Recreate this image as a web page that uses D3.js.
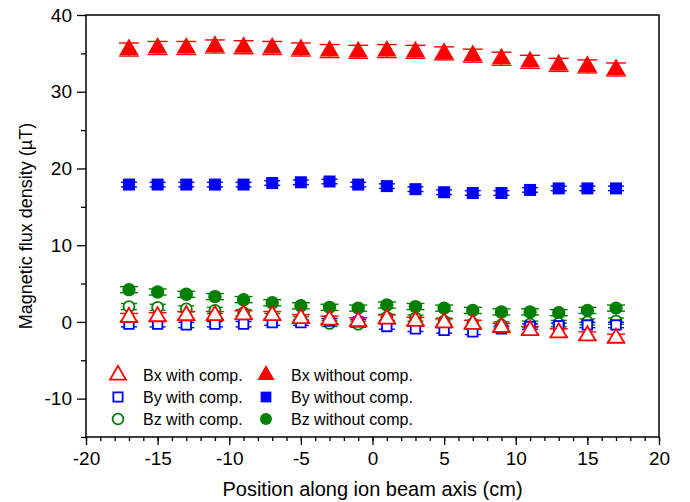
<!DOCTYPE html>
<html><head><meta charset="utf-8">
<script src="https://cdn.jsdelivr.net/npm/d3@7"></script>
<style>body{margin:0;background:#fff}svg{display:block;font-family:"Liberation Sans",Arial,sans-serif}</style>
</head><body>
<svg id="c" width="690" height="502"></svg>
<script>
const positions = [-17,-15,-13,-11,-9,-7,-5,-3,-1,1,3,5,7,9,11,13,15,17];
const bxWithout = [35.5,35.7,35.7,35.9,35.8,35.7,35.5,35.3,35.2,35.3,35.2,35.0,34.7,34.3,33.9,33.5,33.3,32.9];
const byWithout = [17.9,17.9,17.9,17.9,17.9,18.1,18.2,18.3,17.9,17.7,17.3,16.9,16.8,16.8,17.2,17.4,17.4,17.4];
const bzWithout = [4.2,3.9,3.6,3.3,2.9,2.5,2.1,1.9,1.8,2.2,2.0,1.8,1.5,1.3,1.3,1.2,1.5,1.8];
const bxWith = [0.6,0.7,0.85,0.85,0.95,0.85,0.45,0.25,0.05,0.4,0.1,-0.1,-0.3,-0.7,-1.1,-1.4,-1.8,-2.1];
const byWith = [-0.3,-0.3,-0.4,-0.3,-0.3,-0.1,-0.1,0.1,0.0,-0.6,-0.9,-1.1,-1.3,-0.9,-0.6,-0.5,-0.4,-0.4];
const bzWith = [2.0,1.9,1.7,1.5,1.2,0.7,0.3,-0.2,-0.3,0.6,0.5,0.1,-0.2,-0.4,-0.3,-0.2,0.0,0.1];
const errBxWithout = [0.85,0.85,0.85,0.85,0.85,0.85,0.85,0.85,0.85,0.85,0.85,0.85,0.85,0.85,0.85,0.85,0.85,0.85];
const errByWithout = [0.3,0.3,0.3,0.3,0.3,0.3,0.3,0.3,0.3,0.3,0.3,0.3,0.3,0.3,0.3,0.3,0.3,0.3];
const errBzWithout = [0.4,0.4,0.4,0.4,0.4,0.4,0.4,0.4,0.4,0.4,0.4,0.4,0.4,0.4,0.4,0.4,0.4,0.4];
const errBxWith = [0.5,0.5,0.5,0.5,0.5,0.5,0.5,0.5,0.5,0.5,0.5,0.5,0.5,0.5,0.5,0.5,0.5,0.5];
const errByWith = [0.35,0.35,0.35,0.35,0.35,0.35,0.35,0.35,0.35,0.35,0.35,0.35,0.35,0.35,0.35,0.35,0.35,0.35];
const errBzWith = [0.4,0.4,0.4,0.4,0.4,0.4,0.4,0.4,0.4,0.4,0.4,0.4,0.4,0.4,0.4,0.4,0.4,0.4];
const xTicks = [-20,-15,-10,-5,0,5,10,15,20];
const yTicks = [-10,0,10,20,30,40];
const seriesNames = ["Bx with comp.","By with comp.","Bz with comp.","Bx without comp.","By without comp.","Bz without comp."];

const svg = d3.select("#c");
const L = 86, R = 659, T = 15, B = 437;
const x = d3.scaleLinear().domain([-20,20]).range([L,R]);
const y = d3.scaleLinear().domain([-15,40]).range([B,T]);
const fmt = d => String(d);
const FONT = "Liberation Sans, Arial, sans-serif";

const series = [
  {name:seriesNames[5], v:bzWithout, e:errBzWithout, color:"#008000", shape:d3.symbolCircle, size:140, fill:true, cap:9},
  {name:seriesNames[4], v:byWithout, e:errByWithout, color:"#0000ff", shape:d3.symbolSquare, size:144, fill:true, cap:8},
  {name:seriesNames[3], v:bxWithout, e:errBxWithout, color:"#ff0000", shape:d3.symbolTriangle, size:160, fill:true, cap:10},
  {name:seriesNames[2], v:bzWith, e:errBzWith, color:"#008000", shape:d3.symbolCircle, size:95, fill:false, cap:8},
  {name:seriesNames[1], v:byWith, e:errByWith, color:"#0000ff", shape:d3.symbolSquare, size:90, fill:false, cap:8},
  {name:seriesNames[0], v:bxWith, e:errBxWith, color:"#ff0000", shape:d3.symbolTriangle, size:115, fill:false, cap:9}
];

series.forEach(s => {
  const g = svg.append("g");
  positions.forEach((p,i) => {
    const cx = x(p), v = s.v[i], e = s.e[i];
    const eg = g.append("g").attr("stroke", s.color).attr("stroke-width",1.4);
    eg.append("line").attr("x1",cx).attr("x2",cx).attr("y1",y(v-e)).attr("y2",y(v+e));
    eg.append("line").attr("x1",cx-s.cap).attr("x2",cx+s.cap).attr("y1",y(v-e)).attr("y2",y(v-e));
    eg.append("line").attr("x1",cx-s.cap).attr("x2",cx+s.cap).attr("y1",y(v+e)).attr("y2",y(v+e));
    g.append("path").attr("d", d3.symbol(s.shape, s.size)())
      .attr("transform", `translate(${cx},${y(v)})`)
      .attr("fill", s.fill ? s.color : "#fff")
      .attr("stroke", s.color).attr("stroke-width", s.fill ? 0 : 1.8);
  });
});

// frame
svg.append("rect").attr("x",L).attr("y",T).attr("width",R-L).attr("height",B-T)
  .attr("fill","none").attr("stroke","#000").attr("stroke-width",1.5);

// x axis
const xMin = svg.append("g").attr("transform",`translate(0,${B})`)
  .call(d3.axisBottom(x).tickValues(d3.range(-20,21,1)).tickSize(4).tickFormat(""));
xMin.select(".domain").remove();
const xMaj = svg.append("g").attr("transform",`translate(0,${B})`)
  .call(d3.axisBottom(x).tickValues(xTicks).tickSize(8).tickPadding(7).tickFormat(fmt));
xMaj.select(".domain").remove();
xMaj.selectAll("text").attr("font-size",19).attr("fill","#000").attr("font-family",FONT);

// y axis
const yMin = svg.append("g").attr("transform",`translate(${L},0)`)
  .call(d3.axisLeft(y).tickValues([-15,-5,5,15,25,35]).tickSize(5).tickFormat(""));
yMin.select(".domain").remove();
const yMaj = svg.append("g").attr("transform",`translate(${L},0)`)
  .call(d3.axisLeft(y).tickValues(yTicks).tickSize(9).tickPadding(5).tickFormat(fmt));
yMaj.select(".domain").remove();
yMaj.selectAll("text").attr("font-size",19).attr("fill","#000").attr("font-family",FONT);
svg.selectAll(".tick line").attr("stroke-width",1.3);

// titles
svg.append("text").attr("x",(L+R)/2).attr("y",496).attr("text-anchor","middle")
  .attr("font-size",20).text("Position along ion beam axis (cm)");
svg.append("text").attr("transform",`translate(32,${(T+B)/2}) rotate(-90)`).attr("text-anchor","middle")
  .attr("font-size",18).text("Magnetic flux density (µT)");

// legend
const legendOrder = [5,4,3,2,1,0];
const legPos = [[118,375],[118,397],[118,419],[266,375],[266,397],[266,419]];
legendOrder.forEach((si,k) => {
  const s = series[si];
  const [lx,ly] = legPos[k];
  svg.append("path").attr("d", d3.symbol(s.shape, s.fill ? s.size*0.8 : s.size*0.95)())
    .attr("transform",`translate(${lx},${ly})`)
    .attr("fill", s.fill ? s.color : "#fff")
    .attr("stroke", s.color).attr("stroke-width", s.fill ? 0 : 1.8);
  svg.append("text").attr("x", lx + 25).attr("y", ly + 6).attr("font-size",16).text(s.name);
});
</script>
</body></html>
